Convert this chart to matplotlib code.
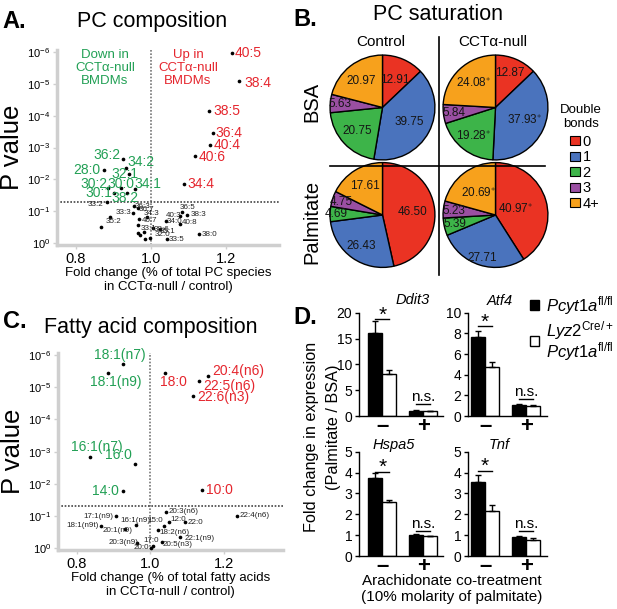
import matplotlib
matplotlib.use("Agg")
import numpy as np
import matplotlib.pyplot as plt
from matplotlib.lines import Line2D
from matplotlib.patches import Patch

plt.rcParams["font.family"] = ["Liberation Sans", "DejaVu Sans"]
plt.rcParams["mathtext.fontset"] = "custom"
plt.rcParams["mathtext.rm"] = "Liberation Sans"
plt.rcParams["mathtext.it"] = "Liberation Sans:italic"
plt.rcParams["mathtext.bf"] = "Liberation Sans:bold"

# ---------------- data ----------------
# A. PC composition: fold change and log10(P)
pc_up_lab = ["40:5", "38:4", "38:5", "36:4", "40:4", "40:6", "34:4"]
pc_up_fc = [1.215, 1.235, 1.155, 1.165, 1.158, 1.117, 1.087]
pc_up_logp = [-5.96, -5.10, -4.15, -3.45, -3.08, -2.73, -1.84]

pc_down_lab = ["36:2", "34:2", "28:0", "32:1", "30:2", "30:0", "34:1", "30:1", "38:2"]
pc_down_fc = [0.925, 0.934, 0.875, 0.941, 0.886, 0.919, 0.957, 0.902, 0.937]
pc_down_logp = [-2.64, -2.37, -2.29, -2.18, -1.74, -1.74, -1.71, -1.58, -1.56]

pc_ns_lab = ["33:2", "36:3", "36:7", "33:3", "35:2", "", "40:7", "34:3", "36:5", "38:3",
             "40:3", "34:0", "40:8", "33:1", "38:6", "35:1", "32:0", "33:5", "38:0",
             "", "", "", ""]
pc_ns_fc = [0.882, 0.955, 0.965, 0.953, 0.891, 0.866, 0.969, 0.989, 1.082, 1.097,
            1.077, 1.039, 1.077, 0.966, 1.005, 1.024, 0.997, 1.043, 1.127,
            0.965, 0.971, 0.981, 0.984]
pc_ns_logp = [-1.30, -1.15, -1.10, -0.95, -0.82, -0.50, -0.74, -0.82, -0.96, -0.88,
              -0.86, -0.69, -0.60, -0.56, -0.47, -0.44, -0.16, -0.14, -0.27,
              -0.30, -0.25, -0.36, -0.13]

# C. Fatty acid composition
fa_up_lab = ["18:0", "20:4(n6)", "22:5(n6)", "22:6(n3)", "10:0"]
fa_up_fc = [1.039, 1.157, 1.131, 1.116, 1.140]
fa_up_logp = [-5.44, -5.35, -5.19, -4.74, -1.81]

fa_down_lab = ["18:1(n7)", "18:1(n9)", "16:1(n7)", "16:0", "14:0"]
fa_down_fc = [0.926, 0.886, 0.836, 0.959, 0.925]
fa_down_logp = [-5.72, -5.44, -2.84, -2.61, -1.78]

fa_ns_lab = ["17:1(n9)", "18:1(n9t)", "16:1(n9)", "20:1(n9)", "20:3(n9)", "20:0", "17:0",
             "20:5(n3)", "18:2(n6)", "22:1(n9)", "15:0", "12:0", "22:0", "20:3(n6)", "22:4(n6)"]
fa_ns_fc = [0.906, 0.865, 0.962, 0.931, 0.963, 1.001, 1.008,
            1.031, 1.020, 1.081, 1.037, 1.051, 1.094, 1.043, 1.235]
fa_ns_logp = [-1.00, -0.70, -0.71, -0.60, -0.17, -0.02, -0.08,
              -0.20, -0.57, -0.36, -0.70, -0.81, -0.81, -1.12, -1.01]

# B. PC saturation (% of PC by number of double bonds)
bond_labels = ["0", "1", "2", "3", "4+"]
ctrl_bsa = [12.91, 39.75, 20.75, 5.63, 20.97]
cct_bsa = [12.87, 37.93, 19.28, 5.84, 24.08]
ctrl_palm = [46.50, 26.43, 4.69, 4.75, 17.61]
cct_palm = [40.97, 27.71, 5.39, 5.23, 20.69]
cct_bsa_sig = [False, True, True, False, True]
cct_palm_sig = [True, False, False, False, True]

# D. Fold change in expression (Palmitate / BSA), groups: - / + arachidonate
genes = ["Ddit3", "Atf4", "Hspa5", "Tnf"]
flox_mean = [[16.0, 1.05], [7.68, 1.06], [3.75, 1.00], [3.56, 0.92]]
flox_err = [[2.3, 0.10], [0.58, 0.06], [0.21, 0.04], [0.32, 0.04]]
ko_mean = [[8.2, 1.00], [4.77, 1.00], [2.60, 0.95], [2.17, 0.77]]
ko_err = [[0.8, 0.05], [0.49, 0.05], [0.08, 0.03], [0.27, 0.08]]
groups = ["–", "+"]
yticks_d = [[0, 5, 10, 15, 20], [0, 2, 4, 6, 8, 10], [0, 1, 2, 3, 4, 5], [0, 1, 2, 3, 4, 5]]

# ---------------- layout helpers ----------------
W, H = 617, 609
fig = plt.figure(figsize=(W / 100, H / 100), dpi=100)


def px_axes(x0, y0, x1, y1):
    return fig.add_axes([x0 / W, 1 - y1 / H, (x1 - x0) / W, (y1 - y0) / H])


def ftext(x, y, s, **kw):
    kw.setdefault("ha", "center")
    kw.setdefault("va", "center")
    return fig.text(x / W, 1 - y / H, s, **kw)


GREEN_T = "#22a055"
RED_T = "#e5262e"
PIE_COLORS = ["#ea3323", "#4a73bd", "#3db449", "#9a4fa2", "#f7a11c"]
SPINE_GRAY = "#cfcfcf"


def volcano(ax, xlim, xlabel):
    ax.set_yscale("log")
    ax.set_xlim(*xlim)
    ax.set_ylim(10 ** 0.05, 10 ** -6.05)
    ax.minorticks_off()
    for s in ["top", "right"]:
        ax.spines[s].set_visible(False)
    for s in ["left", "bottom"]:
        ax.spines[s].set_color(SPINE_GRAY)
        ax.spines[s].set_linewidth(2.5)
    ax.set_yticks([10.0 ** -k for k in range(7)])
    ax.set_yticklabels([r"$10^{%d}$" % -k for k in range(7)], fontsize=8)
    ax.set_xticks([0.8, 1.0, 1.2])
    ax.set_xticklabels(["0.8", "1.0", "1.2"], fontsize=10.5)
    ax.tick_params(color=SPINE_GRAY, length=3, width=1, pad=2)
    ax.axvline(1.0, color="#777777", ls=(0, (1, 1)), lw=1.2, zorder=1)
    ax.axhline(0.05, color="#444444", ls=(0, (1, 1)), lw=1.2, zorder=1)
    ax.set_xlabel(xlabel, fontsize=9.5, labelpad=1, linespacing=1.2)
    ax.set_ylabel("P value", fontsize=18.5, labelpad=2)


def put_points(ax, fc, logp, labs, offs, color, size):
    p = [10 ** v for v in logp]
    ax.scatter(fc, p, s=7, color="black", linewidths=0, zorder=3)
    for x, y, lab, (dx, dy, ha) in zip(fc, p, labs, offs):
        if lab:
            ax.annotate(lab, (x, y), xytext=(dx * 0.72, dy * 0.72), textcoords="offset points",
                        ha=ha, va="center", color=color, fontsize=size, zorder=4)


# ---------------- A ----------------
axA = px_axes(57.25, 50.4, 278.5, 244.6)
volcano(axA, (0.75, 1.34), "Fold change (% of total PC species\nin CCTα-null / control)")
put_points(axA, pc_up_fc, pc_up_logp, pc_up_lab,
           [(3, 0, "left"), (5, -2, "left"), (4, 0, "left"), (3, 0, "left"), (3, 0, "left"),
            (4, -1, "left"), (4, 0, "left")], RED_T, 10)
put_points(axA, pc_down_fc, pc_down_logp, pc_down_lab,
           [(-2, 4, "right"), (1, 6, "left"), (-4, 0, "right"), (-4, 0, "center"),
            (-1, 4, "right"), (0, 4, "center"), (0, 5, "left"), (-2, 0, "right"), (-2, -5, "center")],
           GREEN_T, 10)
put_points(axA, pc_ns_fc, pc_ns_logp, pc_ns_lab,
           [(-3, -3, "right"), (1, 0, "left"), (1, -2, "left"), (-2, 0, "right"), (-4, -5, "left"),
            (0, 0, "left"), (2, -1, "left"), (-3, 3, "left"), (-2, 5, "left"), (3, 0, "left"),
            (2, 0, "right"), (1, 0, "left"), (2, 1, "left"), (2, -3, "left"), (1, -1, "left"),
            (0, -2, "left"), (5, 3, "left"), (2, -1, "left"), (3, 0, "left"),
            (0, 0, "left"), (0, 0, "left"), (0, 0, "left"), (0, 0, "left")],
           "#222222", 5.8)
ftext(105, 68, "Down in\nCCTα-null\nBMDMs", color=GREEN_T, fontsize=9.5, linespacing=1.15)
ftext(188, 68, "Up in\nCCTα-null\nBMDMs", color=RED_T, fontsize=9.5, linespacing=1.15)
ftext(152, 22, "PC composition", fontsize=15.5)
ftext(2, 22, "A.", fontsize=17, weight="bold", ha="left")

# ---------------- C ----------------
axC = px_axes(58.25, 353.4, 283.3, 549.9)
volcano(axC, (0.75, 1.36), "Fold change (% of total fatty acids\nin CCTα-null / control)")
put_points(axC, fa_up_fc, fa_up_logp, fa_up_lab,
           [(9, -9, "center"), (4, 5, "left"), (4, -5, "left"), (4, -1, "left"), (4, 0, "left")],
           RED_T, 10)
put_points(axC, fa_down_fc, fa_down_logp, fa_down_lab,
           [(-3, 9, "center"), (7, -9, "center"), (7, 10, "center"), (-3, 9, "right"), (-4, 0, "right")],
           GREEN_T, 10)
put_points(axC, fa_ns_fc, fa_ns_logp, fa_ns_lab,
           [(-2, 0, "right"), (-2, 0, "right"), (-1, 5, "center"), (-7, -2, "center"), (2, 0, "right"),
            (-2, 0, "right"), (-2, 5, "center"), (1, -3, "left"), (2, -3, "left"), (4, -2, "left"),
            (-1, 5, "right"), (1, 3, "left"), (2, 0, "left"), (2, 1, "left"), (2, 0, "left")],
           "#222222", 5.8)
ftext(151, 328, "Fatty acid composition", fontsize=15.5)
ftext(3, 322, "C.", fontsize=17, weight="bold", ha="left")

# ---------------- B ----------------
pie_specs = [
    (ctrl_bsa, None, 382.5, 107.5, [0.58, 0.58, 0.67, 0.81, 0.65]),
    (cct_bsa, cct_bsa_sig, 495.5, 107.5, [0.71, 0.6, 0.7, 0.8, 0.62]),
    (ctrl_palm, None, 382.5, 215, [0.58, 0.72, 0.88, 0.82, 0.64]),
    (cct_palm, cct_palm_sig, 495.5, 215, [0.4, 0.85, 0.8, 0.79, 0.52]),
]
R = 54
for vals, sig, cx, cy, rf in pie_specs:
    ax = px_axes(cx - R, cy - R, cx + R, cy + R)
    ax.pie(vals, colors=PIE_COLORS, startangle=90, counterclock=False, radius=1,
           wedgeprops=dict(edgecolor="black", linewidth=1))
    ax.set_xlim(-1.03, 1.03)
    ax.set_ylim(-1.03, 1.03)
    ax.set_aspect("equal")
    ax.axis("off")
    cum = np.cumsum([0] + vals[:-1])
    tot = sum(vals)
    for i, v in enumerate(vals):
        ang = np.deg2rad(90 - 360 * (cum[i] + v / 2) / tot)
        s = "%.2f" % v
        if sig is not None and sig[i]:
            s += r"$^{\ast}$"
        ax.text(rf[i] * np.cos(ang), rf[i] * np.sin(ang), s, ha="center", va="center",
                fontsize=8.5, color="#151515")

ftext(438, 15, "PC saturation", fontsize=15.5)
ftext(293, 20, "B.", fontsize=17, weight="bold", ha="left")
ftext(381, 42, "Control", fontsize=11)
ftext(493, 42, "CCTα-null", fontsize=11)
ftext(312, 102, "BSA", fontsize=14.5, rotation=90)
ftext(312, 222, "Palmitate", fontsize=14.5, rotation=90)
fig.add_artist(Line2D([439.3 / W, 439.3 / W], [1 - 37 / H, 1 - 275 / H], color="black", lw=1.2))
fig.add_artist(Line2D([330 / W, 545 / W], [1 - 165.7 / H, 1 - 165.7 / H], color="black", lw=1.2))

ftext(581, 117, "Double\nbonds", fontsize=9.5, linespacing=1.2)
handles = [Patch(facecolor=c, edgecolor="black", lw=0.8) for c in PIE_COLORS]
fig.legend(handles, bond_labels, loc="upper left",
           bbox_to_anchor=(570 / W, 1 - 135 / H), frameon=False, fontsize=10.5,
           handlelength=0.7, handleheight=0.55, handletextpad=0.15,
           labelspacing=0.1, borderpad=0, borderaxespad=0)

# ---------------- D ----------------
d_boxes = [(359.3, 312.7, 443, 416, (-0.56, 1.48)),
           (468.3, 312.7, 546.7, 416, (-0.41, 1.50)),
           (359.3, 451.7, 443, 556, (-0.56, 1.48)),
           (468.3, 451.7, 546.7, 556, (-0.41, 1.50))]
star_y = [18.7, 8.7, 4.04, 4.09]
ns_y = [2.3, 1.65, 1.21, 1.21]
title_px = [(430, 300), (513, 301), (415, 445), (510, 445)]
xg = np.arange(len(groups))
bw = 0.34
bar_handles = None
for i, g in enumerate(genes):
    x0, y0, x1, y1, xl = d_boxes[i]
    ax = px_axes(x0, y0, x1, y1)
    bk = ax.bar(xg - bw / 2, flox_mean[i], bw, color="black", edgecolor="black", lw=1,
                yerr=[[0, 0], flox_err[i]], capsize=2.5,
                error_kw=dict(elinewidth=1, capthick=1, ecolor="black"))
    bwh = ax.bar(xg + bw / 2, ko_mean[i], bw, color="white", edgecolor="black", lw=1,
                 yerr=[[0, 0], ko_err[i]], capsize=2.5,
                 error_kw=dict(elinewidth=1, capthick=1, ecolor="black"))
    if bar_handles is None:
        bar_handles = [bk, bwh]
    ymax = yticks_d[i][-1]
    ax.set_ylim(0, ymax)
    ax.set_xlim(*xl)
    ax.set_yticks(yticks_d[i])
    ax.tick_params(axis="y", labelsize=10, length=3, width=1, pad=2)
    ax.set_xticks(xg)
    ax.set_xticklabels(groups, fontsize=16, weight="bold")
    ax.tick_params(axis="x", length=0, pad=0)
    for s in ["top", "right"]:
        ax.spines[s].set_visible(False)
    ax.spines["left"].set_linewidth(1)
    ax.spines["bottom"].set_linewidth(1)
    ax.plot([-bw / 2, bw / 2], [star_y[i]] * 2, color="black", lw=1, clip_on=False)
    ax.annotate("*", (0, star_y[i]), xytext=(0, -4), textcoords="offset points",
                ha="center", va="bottom", fontsize=15, annotation_clip=False)
    ax.plot([1 - bw / 2, 1 + bw / 2], [ns_y[i]] * 2, color="black", lw=1, clip_on=False)
    ax.annotate("n.s.", (1, ns_y[i]), xytext=(0, 0), textcoords="offset points",
                ha="center", va="bottom", fontsize=11)
    tx, ty = title_px[i]
    ftext(tx, ty, g, fontsize=10.5, style="italic", ha="right")

leg = fig.legend(bar_handles,
                 [r"$\mathit{Pcyt1a}^{\mathrm{fl/fl}}$",
                  "$\\mathit{Lyz2}^{\\mathrm{Cre/+}}$\n$\\mathit{Pcyt1a}^{\\mathrm{fl/fl}}$"],
                 loc="upper left", bbox_to_anchor=(530 / W, 1 - 294 / H), frameon=False, fontsize=12,
                 handlelength=0.55, handleheight=0.55, handletextpad=0.4, labelspacing=0.15,
                 borderpad=0, borderaxespad=0)
for t in leg.get_texts():
    t.set_linespacing(0.85)

ftext(312, 437, "Fold change in expression", fontsize=11.7, rotation=90)
ftext(333.5, 427, "(Palmitate / BSA)", fontsize=11.7, rotation=90)
ftext(452, 581, "Arachidonate co-treatment", fontsize=11)
ftext(452, 597, "(10% molarity of palmitate)", fontsize=11)
ftext(293, 318, "D.", fontsize=17, weight="bold", ha="left")

fig.savefig("out.png", dpi=100)
